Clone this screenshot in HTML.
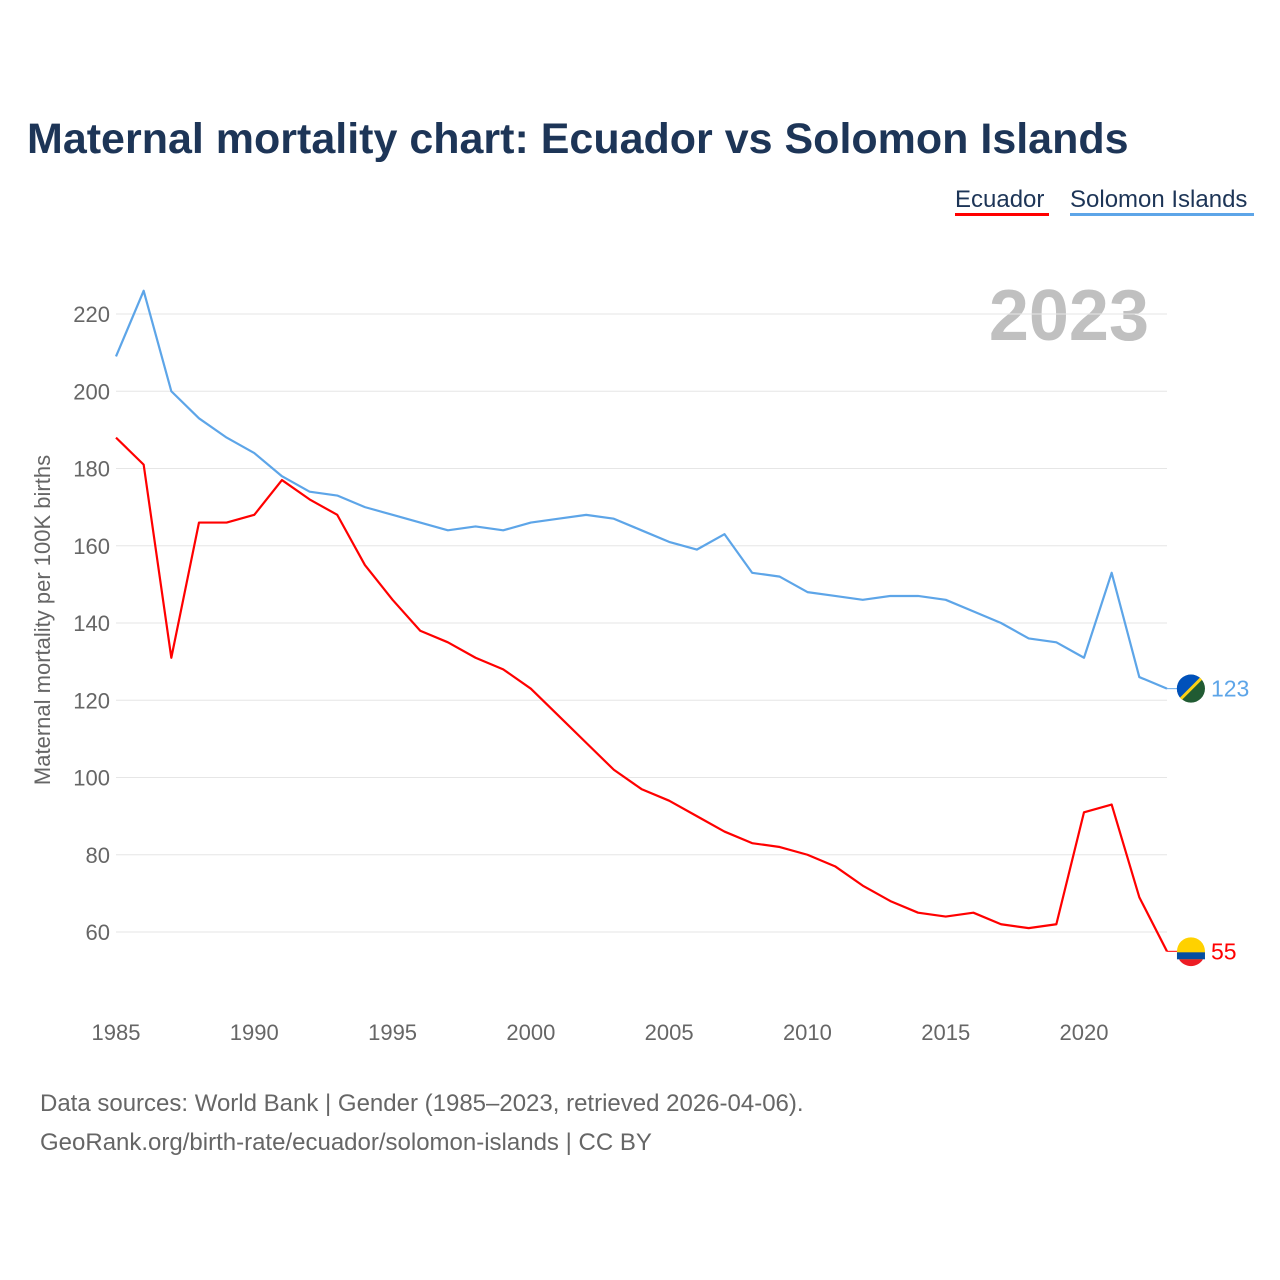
<!DOCTYPE html>
<html><head><meta charset="utf-8"><style>
body{margin:0;background:#fff;font-family:"Liberation Sans",sans-serif;}
#wrap{position:relative;width:1280px;height:1280px;overflow:hidden;}
</style></head><body>
<div id="wrap">
<svg id="chart" width="1280" height="1280">
<text x="27" y="153" font-size="43" font-weight="bold" fill="#1d3557">Maternal mortality chart: Ecuador vs Solomon Islands</text>
<g>
<text x="955" y="207" font-size="24" fill="#1d3557">Ecuador</text>
<rect x="955" y="213" width="94" height="3" fill="#ff0000"/>
<text x="1070" y="207" font-size="24" fill="#1d3557">Solomon Islands</text>
<rect x="1070" y="213" width="184" height="3" fill="#5da5e8"/>
</g>
<text x="1149" y="340" font-size="72" font-weight="bold" fill="#c0c0c0" text-anchor="end">2023</text>
<g id="grid"></g><g id="xt"></g><g id="lines"></g>
<text transform="translate(50,620) rotate(-90)" font-size="22" fill="#666" text-anchor="middle">Maternal mortality per 100K births</text>
<text x="40" y="1111" font-size="24" fill="#666">Data sources: World Bank | Gender (1985–2023, retrieved 2026-04-06).</text>
<text x="40" y="1150" font-size="24" fill="#666">GeoRank.org/birth-rate/ecuador/solomon-islands | CC BY</text>
</svg></div>
<script>
const years=[];for(let y=1985;y<=2023;y++)years.push(y);
const solomon=[209,226,200,193,188,184,178,174,173,170,168,166,164,165,164,166,167,168,167,164,161,159,163,153,152,148,147,146,147,147,146,143,140,136,135,131,153,126,123];
const ecuador=[188,181,131,166,166,168,177,172,168,155,146,138,135,131,128,123,116,109,102,97,94,90,86,83,82,80,77,72,68,65,64,65,62,61,62,91,93,69,55];
const yTicks=[60,80,100,120,140,160,180,200,220];
const xTicks=[1985,1990,1995,2000,2005,2010,2015,2020];
const NS="http://www.w3.org/2000/svg";
const X=v=>116+(v-1985)*(1084-116)/35;
const Y=v=>932-(v-60)*(932-314)/160;
function mk(t,a,p){const e=document.createElementNS(NS,t);for(const k in a)e.setAttribute(k,a[k]);p.appendChild(e);return e;}
const grid=document.getElementById('grid');
yTicks.forEach(t=>{
 const l=mk('line',{x1:116,x2:1167,y1:Y(t),y2:Y(t),stroke:'#e6e6e6','stroke-width':1},grid);
 
 
 const tx=mk('text',{x:110,y:Y(t)+8,'font-size':22,fill:'#666','text-anchor':'end'},grid);tx.textContent=t;
 
 
});
const xt=document.getElementById('xt');
xTicks.forEach(t=>{
 const tx=mk('text',{x:X(t),y:1040,'font-size':22,fill:'#666','text-anchor':'middle'},xt);tx.textContent=t;
 
 
});
const lines=document.getElementById('lines');
function series(vals,color,name,flag){
 const p=mk('polyline',{points:vals.map((v,i)=>X(years[i])+','+Y(v)).join(' '),fill:'none',stroke:color,'stroke-width':2.2,'stroke-linejoin':'round'},lines);
 
 
 const last=vals[vals.length-1],lx=X(2023),ly=Y(last);
 mk('line',{x1:lx,x2:lx+12,y1:ly,y2:ly,stroke:color,'stroke-width':1},lines);
 const g=mk('g',{},lines);
 
 
 if(flag==='ec'){
  mk('circle',{cx:lx+24,cy:ly,r:14,fill:'#ffd100'},g);
  mk('rect',{x:lx+10,y:ly+1,width:28,height:7,fill:'#034ea2'},g);
  mk('path',{d:`M${lx+12},${ly+8} L${lx+36},${ly+8} A14,14 0 0 1 ${lx+12},${ly+8}Z`,fill:'#ed1c24'},g);
 }else{
  mk('circle',{cx:lx+24,cy:ly,r:14,fill:'#215b33'},g);
  mk('path',{d:`M${lx+14},${ly+10} A14,14 0 0 1 ${lx+34},${ly-10}Z`,fill:'#0051ba'},g);
  mk('line',{x1:lx+14,y1:ly+10,x2:lx+34,y2:ly-10,stroke:'#fcd116','stroke-width':3},g);
 }
 const t=mk('text',{x:lx+44,y:ly+8,'font-size':23,fill:color},lines);t.textContent=last;
 
 
}
series(solomon,'#5da5e8','solomon-islands','sb');
series(ecuador,'#ff0000','ecuador','ec');
</script>
</body></html>
